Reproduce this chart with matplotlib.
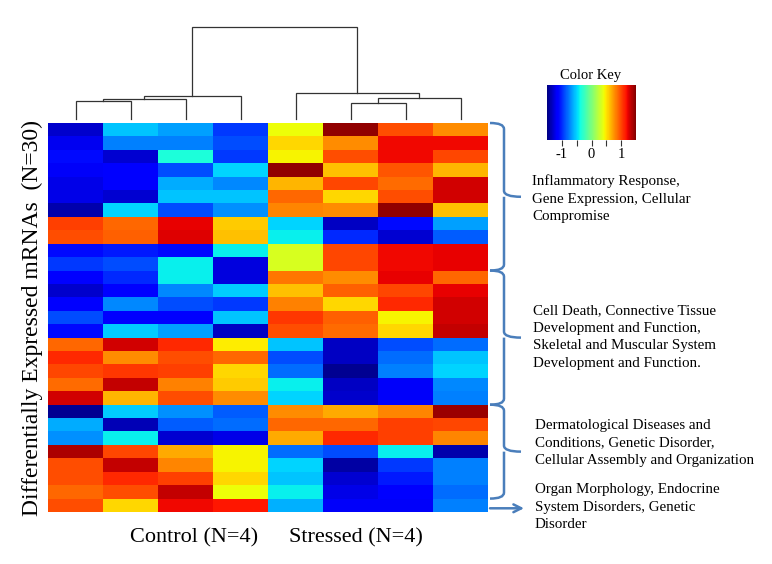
import numpy as np
import matplotlib
matplotlib.use("Agg")
import matplotlib.pyplot as plt
from matplotlib.path import Path
import matplotlib.patches as patches

plt.rcParams['font.family'] = ['Liberation Serif', 'DejaVu Serif']

# z-scored expression, 29 rows x 8 samples (4 control, 4 stressed)
expr = [
    [-1.30, -0.55, -0.65, -0.95,  0.42,  1.45,  0.98,  0.78],
    [-1.20, -0.75, -0.75, -0.90,  0.55,  0.78,  1.20,  1.20],
    [-1.10, -1.28, -0.35, -0.95,  0.45,  0.98,  1.20,  1.00],
    [-1.18, -1.15, -0.90, -0.50,  1.45,  0.62,  0.95,  0.65],
    [-1.22, -1.15, -0.62, -0.72,  0.65,  1.00,  0.88,  1.28],
    [-1.22, -1.28, -0.55, -0.55,  0.90,  0.55,  0.98,  1.28],
    [-1.38, -0.50, -0.90, -0.70,  0.80,  0.78,  1.45,  0.62],
    [ 1.02,  0.90,  1.22,  0.58, -0.50, -1.32, -1.10, -0.65],
    [ 0.98,  0.92,  1.25,  0.62, -0.42, -1.00, -1.28, -0.85],
    [-1.10, -1.05, -1.10, -0.42,  0.33,  1.00,  1.20,  1.22],
    [-0.95, -0.90, -0.42, -1.25,  0.33,  1.00,  1.20,  1.22],
    [-1.15, -1.00, -0.42, -1.25,  0.85,  0.78,  1.22,  0.90],
    [-1.30, -1.15, -0.72, -0.52,  0.62,  0.92,  1.00,  1.22],
    [-1.15, -0.72, -0.90, -0.95,  0.82,  0.55,  1.10,  1.28],
    [-0.90, -1.15, -1.15, -0.55,  1.05,  0.92,  0.45,  1.28],
    [-1.10, -0.52, -0.65, -1.32,  0.98,  0.88,  0.55,  1.32],
    [ 0.90,  1.28,  1.10,  0.48, -0.55, -1.32, -0.90, -0.80],
    [ 1.10,  0.78,  0.98,  0.90, -0.90, -1.32, -0.80, -0.55],
    [ 1.00,  1.05,  1.02,  0.55, -0.80, -1.45, -0.75, -0.50],
    [ 0.88,  1.32,  0.82,  0.58, -0.42, -1.32, -1.18, -0.72],
    [ 1.28,  0.65,  0.98,  0.78, -0.50, -1.30, -1.18, -0.75],
    [-1.45, -0.52, -0.70, -0.85,  0.78,  0.68,  0.80,  1.42],
    [-0.62, -1.35, -0.85, -0.80,  0.90,  0.90,  1.02,  1.00],
    [-0.70, -0.42, -1.28, -1.22,  0.68,  1.10,  1.02,  0.80],
    [ 1.38,  1.00,  0.68,  0.45, -0.80, -0.90, -0.42, -1.38],
    [ 0.98,  1.32,  0.80,  0.45, -0.50, -1.40, -0.95, -0.75],
    [ 0.98,  1.10,  1.02,  0.55, -0.55, -1.28, -1.05, -0.75],
    [ 0.90,  0.98,  1.32,  0.42, -0.42, -1.22, -1.15, -0.80],
    [ 0.98,  0.55,  1.20,  1.15, -0.60, -1.18, -1.18, -0.75],
]

# column dendrogram: (left node, right node, height); nodes 8.. are merges
col_merges = [(0, 1, 18.6), (8, 2, 20.0), (9, 3, 23.3),
              (5, 6, 16.3), (11, 7, 21.6), (4, 12, 26.3), (10, 13, 92.0)]

group_labels = ['Control (N=4)', 'Stressed (N=4)']
ylabel = 'Differentially Expressed mRNAs  (N=30)'
annotations = [
    'Inflammatory Response,\nGene Expression, Cellular\nCompromise',
    'Cell Death, Connective Tissue\nDevelopment and Function,\nSkeletal and Muscular System\nDevelopment and Function.',
    'Dermatological Diseases and\nConditions, Genetic Disorder,\nCellular Assembly and Organization',
    'Organ Morphology, Endocrine\nSystem Disorders, Genetic\nDisorder',
]
# brace spans in row units (top row, bottom row), last group gets an arrow
brace_rows = [(0, 11), (11, 21), (21, 28)]
arrow_row = 28.5

W, H = 772, 564
fig = plt.figure(figsize=(W / 100, H / 100), dpi=100)


def fax(x0, y0, x1, y1):
    # pixel box -> figure axes
    return fig.add_axes([x0 / W, 1 - y1 / H, (x1 - x0) / W, (y1 - y0) / H])


data = np.array(expr)
nrow, ncol = data.shape

# heatmap
ax = fax(48, 123, 488, 512)
im = ax.imshow(data, cmap='jet', vmin=-1.5, vmax=1.5, aspect='auto',
               interpolation='nearest', extent=(-0.5, ncol - 0.5, nrow, 0))
ax.set_axis_off()

# dendrogram
dax = fax(48, 25, 488, 121)
pos = {i: float(i) for i in range(ncol)}
hgt = {i: 0.0 for i in range(ncol)}
for k, (a, b, h) in enumerate(col_merges):
    dax.plot([pos[a], pos[a], pos[b], pos[b]], [hgt[a], h, h, hgt[b]],
             color='#333333', lw=0.9, solid_joinstyle='miter')
    pos[ncol + k] = (pos[a] + pos[b]) / 2
    hgt[ncol + k] = h
dax.set_xlim(-0.5, ncol - 0.5)
dax.set_ylim(-1.7, 94.3)
dax.set_axis_off()

# color key
cax = fax(547, 85, 636, 140)
cb = fig.colorbar(im, cax=cax, orientation='horizontal', ticks=[-1, 0, 1])
cb.outline.set_visible(False)
cax.set_xticks([-0.5, 0.5], minor=True)
cax.tick_params(which='both', length=4, width=0.8, color='#333333',
                labelsize=10.5, pad=1.5)
cax.set_xticklabels(['-1', '0', '1'])
fig.text(591 / W, 1 - 75 / H, 'Color Key', ha='center', va='center', fontsize=10.5)

# labels
fig.text(32 / W, 1 - 318 / H, ylabel, rotation=90, ha='center', va='center', fontsize=17)
fig.text(194 / W, 1 - 538 / H, group_labels[0], ha='center', va='center', fontsize=16)
fig.text(356 / W, 1 - 538 / H, group_labels[1], ha='center', va='center', fontsize=16)

# braces drawn in pixel space on an overlay axes
oax = fig.add_axes([0, 0, 1, 1])
oax.set_xlim(0, W)
oax.set_ylim(H, 0)
oax.set_axis_off()
blue = '#4a7ebb'
row_h = (512 - 123) / nrow


def brace(y0, y1, x0=490, x1=504, tip=521):
    ym = (y0 + y1) / 2
    r = 6
    verts = [(x0, y0), (x1, y0), (x1, y0 + r), (x1, ym - r),
             (x1, ym), (tip, ym), (x1, ym), (x1, ym + r),
             (x1, y1 - r), (x1, y1), (x0, y1)]
    codes = [Path.MOVETO, Path.CURVE3, Path.CURVE3, Path.LINETO,
             Path.CURVE3, Path.LINETO, Path.MOVETO, Path.LINETO,
             Path.LINETO, Path.CURVE3, Path.CURVE3]
    oax.add_patch(patches.PathPatch(Path(verts, codes), fill=False,
                                    edgecolor=blue, lw=1.8))


for r0, r1 in brace_rows:
    brace(123 + r0 * row_h, 123 + r1 * row_h)
ya = 123 + arrow_row * row_h + 3
oax.annotate('', xy=(524, ya), xytext=(490, ya),
             arrowprops=dict(arrowstyle='->', color=blue, lw=1.8,
                             mutation_scale=14, shrinkA=0, shrinkB=0))

text_pos = [(532, 199), (533, 337), (535, 443), (535, 507)]
for (tx, ty), txt in zip(text_pos, annotations):
    oax.text(tx, ty, txt, ha='left', va='center', fontsize=10.8, linespacing=1.45)

fig.savefig('out.png', dpi=100)
